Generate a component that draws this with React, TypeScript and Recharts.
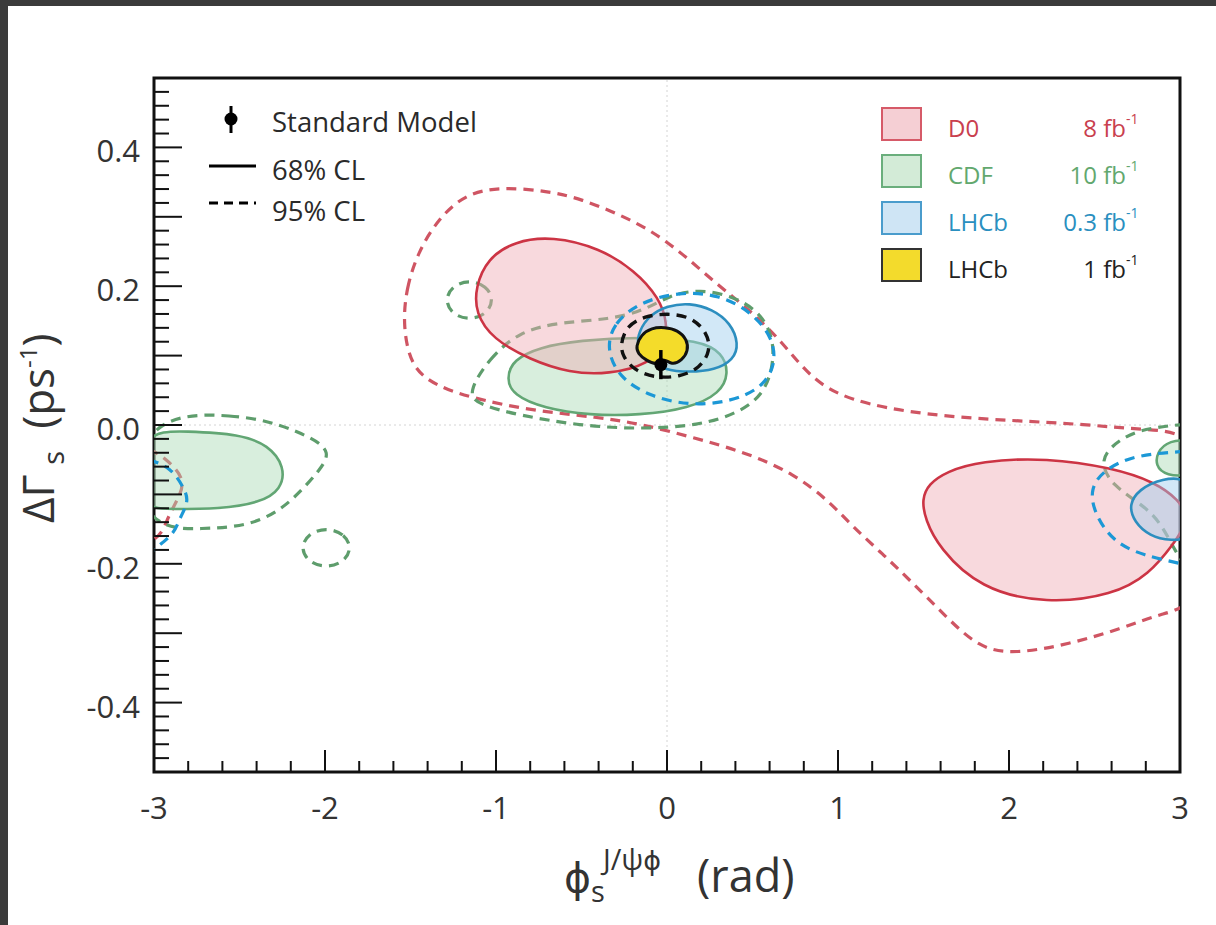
import React from "react";
import { ScatterChart, Scatter, XAxis, YAxis, ReferenceLine, ReferenceArea } from "recharts";

// contour points, [phi_s (rad), DeltaGamma_s (ps^-1)]
const d0Main68 = [
  [-0.67, 0.272], [-0.395, 0.255], [-0.19, 0.223], [-0.044, 0.183], [0.003, 0.146], [-0.015, 0.117],
  [-0.1, 0.088], [-0.34, 0.073], [-0.57, 0.075], [-0.8, 0.094], [-1.02, 0.124], [-1.12, 0.161],
  [-1.12, 0.199], [-1.05, 0.24], [-0.89, 0.265],
];
const d0Right68 = [
  [1.49, -0.107], [1.53, -0.085], [1.636, -0.067], [1.829, -0.052], [2.222, -0.047], [2.608, -0.062],
  [2.85, -0.082], [2.99, -0.107], [3.06, -0.136], [2.96, -0.172], [2.82, -0.215], [2.61, -0.245],
  [2.22, -0.258], [1.83, -0.236], [1.59, -0.177], [1.51, -0.136],
];
const d0Main95 = [
  [-1.545, 0.143], [-1.525, 0.197], [-1.455, 0.25], [-1.335, 0.298], [-1.174, 0.334], [-0.963, 0.343],
  [-0.688, 0.337], [-0.495, 0.325], [-0.296, 0.305], [-0.102, 0.282], [0.091, 0.247], [0.29, 0.203],
  [0.483, 0.166], [0.676, 0.119], [0.834, 0.069], [1.051, 0.035], [1.513, 0.014], [2.034, 0.006],
  [2.45, 0.001], [2.766, -0.007], [3.2, -0.01], [3.2, -0.254], [2.871, -0.273], [2.661, -0.293],
  [2.35, -0.316], [2.034, -0.33], [1.824, -0.322], [1.619, -0.273], [1.426, -0.225], [1.262, -0.186],
  [1.092, -0.148], [0.945, -0.109], [0.741, -0.07], [0.466, -0.04], [0.155, -0.018], [-0.161, 0.002],
  [-0.395, 0.011], [-0.805, 0.021], [-1.156, 0.04], [-1.332, 0.055], [-1.495, 0.08],
];
const d0Left95 = [
  [-3.03, -0.035], [-2.93, -0.05], [-2.845, -0.075], [-2.85, -0.1], [-2.91, -0.13], [-2.96, -0.155], [-3.03, -0.17],
];

const cdfMain68 = [
  [-0.94, 0.067], [-0.9, 0.094], [-0.746, 0.112], [-0.512, 0.122], [-0.161, 0.127], [0.19, 0.122],
  [0.325, 0.104], [0.362, 0.074], [0.312, 0.046], [0.132, 0.024], [-0.161, 0.014], [-0.454, 0.014],
  [-0.72, 0.024], [-0.9, 0.043],
];
const cdfLeft68 = [
  [-3.1, -0.008], [-2.8, -0.009], [-2.5, -0.013], [-2.33, -0.029], [-2.235, -0.06], [-2.255, -0.093],
  [-2.38, -0.112], [-2.62, -0.121], [-2.9, -0.121], [-3.1, -0.121],
];
const cdfRight68 = [
  [3.1, -0.02], [2.93, -0.022], [2.865, -0.04], [2.858, -0.058], [2.91, -0.073], [3.1, -0.075],
];
const cdfMain95 = [
  [-1.17, 0.045], [-1.04, 0.096], [-0.863, 0.135], [-0.629, 0.148], [-0.337, 0.152], [-0.132, 0.165],
  [0.015, 0.187], [0.19, 0.196], [0.395, 0.185], [0.545, 0.162], [0.625, 0.125], [0.62, 0.081],
  [0.558, 0.043], [0.424, 0.018], [0.19, -0.001], [-0.161, -0.006], [-0.512, -0.001], [-0.863, 0.014],
  [-1.098, 0.029],
];
const cdfIsland95a = [
  [-1.013, 0.18], [-1.055, 0.2005], [-1.156, 0.209], [-1.257, 0.2005], [-1.299, 0.18], [-1.257, 0.1595],
  [-1.156, 0.151], [-1.055, 0.1595],
];
const cdfIsland95b = [
  [-1.843, -0.177], [-1.887, -0.1565], [-1.993, -0.148], [-2.099, -0.1565], [-2.143, -0.177],
  [-2.099, -0.1975], [-1.993, -0.206], [-1.887, -0.1975],
];
const cdfLeft95 = [
  [-3.1, 0.017], [-2.5, 0.015], [-2.268, 0.001], [-2.07, -0.019], [-1.965, -0.039], [-2.03, -0.065],
  [-2.151, -0.098], [-2.268, -0.124], [-2.444, -0.145], [-2.696, -0.15], [-3.1, -0.15],
];
const cdfRight95 = [
  [3.03, 0.001], [2.766, -0.009], [2.602, -0.032], [2.555, -0.057], [2.62, -0.086], [2.766, -0.114],
  [2.883, -0.143], [2.971, -0.18], [3.03, -0.201],
];

const lhcb03Main68 = [
  [-0.165, 0.135], [-0.104, 0.158], [0.003, 0.172], [0.132, 0.176], [0.265, 0.167], [0.372, 0.147],
  [0.42, 0.117], [0.39, 0.094], [0.278, 0.079], [0.132, 0.076], [-0.015, 0.079], [-0.118, 0.095],
  [-0.178, 0.113],
];
const lhcb03Right68 = [
  [3.1, -0.074], [2.883, -0.077], [2.762, -0.093], [2.7, -0.114], [2.732, -0.14], [2.824, -0.16],
  [2.941, -0.167], [3.1, -0.164],
];
const lhcb03Main95 = [
  [-0.355, 0.11], [-0.312, 0.147], [-0.161, 0.177], [0.073, 0.192], [0.307, 0.188], [0.5, 0.162],
  [0.62, 0.125], [0.636, 0.087], [0.556, 0.053], [0.366, 0.033], [0.132, 0.028], [-0.102, 0.041],
  [-0.283, 0.069],
];
const lhcb03Left95 = [
  [-3.03, -0.05], [-2.91, -0.064], [-2.83, -0.09], [-2.81, -0.112], [-2.85, -0.136], [-2.9, -0.158], [-3.03, -0.185],
];
const lhcb03Right95 = [
  [3.03, -0.038], [2.766, -0.045], [2.579, -0.064], [2.491, -0.093], [2.514, -0.129], [2.62, -0.165],
  [2.795, -0.187], [3.03, -0.201],
];

const lhcb1Main68 = [
  [-0.182, 0.113], [-0.152, 0.13], [-0.09, 0.14], [-0.015, 0.141], [0.063, 0.137], [0.118, 0.123],
  [0.124, 0.107], [0.088, 0.093], [0.026, 0.086], [-0.015, 0.097], [-0.056, 0.086], [-0.122, 0.093],
  [-0.17, 0.103],
];
const lhcb1Main95 = [
  [-0.272, 0.117], [-0.235, 0.143], [-0.131, 0.157], [0.003, 0.161], [0.143, 0.156], [0.236, 0.133],
  [0.255, 0.107], [0.193, 0.082], [0.073, 0.069], [-0.073, 0.068], [-0.193, 0.079], [-0.26, 0.099],
];

// Standard Model prediction: phi_s, DeltaGamma_s and its uncertainty
const smPhi = [-0.036];
const smGamma = [0.087];
const smGammaErr = [0.021];

const xMajor = [-3, -2, -1, 0, 1, 2, 3];
const yLabelValues = [0.4, 0.2, 0, -0.2, -0.4];
const yLabelText = ["0.4", "0.2", "0.0", "-0.2", "-0.4"];

const xTicks: number[] = [];
for (let i = -15; i <= 15; i++) xTicks.push(i / 5);
const yTicks: number[] = [];
for (let i = -25; i <= 25; i++) yTicks.push(i / 50);

const legendRows = [
  { name: "D0", lumi: "8 fb", color: "#c9404e", fill: "#f5cfd4", edge: "#d65a68" },
  { name: "CDF", lumi: "10 fb", color: "#62a86e", fill: "#d3ebd7", edge: "#6aae7c" },
  { name: "LHCb", lumi: "0.3 fb", color: "#2a8fbf", fill: "#cfe5f5", edge: "#4a9ccc" },
  { name: "LHCb", lumi: "1 fb", color: "#222", fill: "#f3db2c", edge: "#333" },
];

const FONT = "'Open Sans', 'Noto Sans', 'DejaVu Sans', sans-serif";
const PHI = "'DejaVu Sans', sans-serif";

const red68 = "#cc3444";
const red95 = "#cf5563";
const green68 = "#62a674";
const green95 = "#5e9d6c";
const blue68 = "#2c8ebf";
const blue95 = "#1c98d6";

const pts = (a: number[][]) => a.map(([x, y]) => ({ x, y }));
const NoDot = () => <g />;

const smPoint = smPhi.map((x, i) => ({ x, y: smGamma[i] }));
const smBar = [
  { x: smPhi[0], y: smGamma[0] - smGammaErr[0] },
  { x: smPhi[0], y: smGamma[0] + smGammaErr[0] },
];

const XTick = (props: any) => {
  const { x, y, payload } = props;
  const v = Math.round(payload.value * 10) / 10;
  const major = xMajor.includes(v);
  return (
    <g>
      <line x1={x} x2={x} y1={y} y2={y - (major ? 22 : 11)} stroke="#111" strokeWidth={2} />
      {major && (
        <text x={x} y={y + 47} textAnchor="middle" fontSize={31} fontFamily={FONT} fill="#333">
          {String(v)}
        </text>
      )}
    </g>
  );
};

const YTick = (props: any) => {
  const { x, y, payload } = props;
  const v = Math.round(payload.value * 100) / 100;
  const major = Math.abs(v * 10 - Math.round(v * 10)) < 1e-6;
  const li = yLabelValues.findIndex((l) => Math.abs(l - v) < 1e-6);
  return (
    <g>
      <line x1={x} x2={x + (major ? 28 : 15)} y1={y} y2={y} stroke="#111" strokeWidth={2} />
      {li >= 0 && (
        <text x={x - 14} y={y + 15} textAnchor="end" fontSize={31} fontFamily={FONT} fill="#333">
          {yLabelText[li]}
        </text>
      )}
    </g>
  );
};

const XTitle = () => (
  <text x={564} y={892} fontSize={45} fontFamily={FONT} fill="#333">
    <tspan fontFamily={PHI} fontSize={41}>ϕ</tspan>
    <tspan fontSize={29} dy={10}>s</tspan>
    <tspan fontSize={29} dy={-32} dx={-2}>J/ψ</tspan>
    <tspan fontSize={27} fontFamily={PHI}>ϕ</tspan>
    <tspan dy={22} dx={36}>(rad)</tspan>
  </text>
);

const YTitle = () => (
  <text transform="translate(54, 523) rotate(-90)" fontSize={44} fontFamily={FONT} fill="#333">
    ΔΓ<tspan fontSize={29} dy={10} dx={10}>s</tspan>
    <tspan dy={-10} dx={22}>(ps</tspan>
    <tspan fontSize={24} dy={-17}>-1</tspan>
    <tspan dy={17}>)</tspan>
  </text>
);

const contour = (
  key: string,
  data: number[][],
  stroke: string,
  opts: { fill?: string; fillOpacity?: number; dashed?: boolean; open?: boolean; width?: number } = {}
) => (
  <Scatter
    key={key}
    data={pts(data)}
    lineType="joint"
    lineJointType={opts.open ? "natural" : "basisClosed"}
    line={{
      stroke,
      strokeWidth: opts.width ?? (opts.dashed ? 3.2 : 2.6),
      strokeDasharray: opts.dashed ? "10 7" : undefined,
      fill: opts.fill ?? "none",
      fillOpacity: opts.fillOpacity ?? 1,
    }}
    shape={NoDot}
    isAnimationActive={false}
  />
);

export default function App() {
  return (
    <div style={{ position: "absolute", left: 0, top: 0, width: 1216, height: 925, background: "#3b3b3b", overflow: "hidden" }}>
      <div style={{ position: "absolute", left: 8, top: 6, width: 1208, height: 919, background: "#ffffff" }} />
      <div style={{ position: "absolute", left: 0, top: 0 }}>
        <ScatterChart width={1216} height={925} margin={{ top: 78, right: 36, bottom: 93, left: 94 }}>
          <XAxis
            type="number"
            dataKey="x"
            domain={[-3, 3]}
            allowDataOverflow
            ticks={xTicks}
            interval={0}
            tick={<XTick />}
            tickLine={false}
            axisLine={false}
            tickSize={0}
            tickMargin={0}
            height={60}
            label={{ content: XTitle }}
          />
          <YAxis
            type="number"
            dataKey="y"
            domain={[-0.5, 0.5]}
            allowDataOverflow
            ticks={yTicks}
            interval={0}
            tick={<YTick />}
            tickLine={false}
            axisLine={false}
            tickSize={0}
            tickMargin={0}
            width={60}
            label={{ content: YTitle }}
          />
          <ReferenceLine x={0} stroke="#d4d4d4" strokeDasharray="2 3" strokeWidth={1} />
          <ReferenceLine y={0} stroke="#d4d4d4" strokeDasharray="2 3" strokeWidth={1} />

          {contour("d095", d0Main95, red95, { dashed: true })}
          {contour("d095l", d0Left95, red95, { dashed: true, open: true })}
          {contour("cdf95", cdfMain95, green95, { dashed: true })}
          {contour("cdf95a", cdfIsland95a, green95, { dashed: true })}
          {contour("cdf95b", cdfIsland95b, green95, { dashed: true })}
          {contour("cdf95l", cdfLeft95, green95, { dashed: true })}
          {contour("cdf95r", cdfRight95, green95, { dashed: true, open: true })}

          {contour("cdf68", cdfMain68, green68, { fill: "#a9d9b3", fillOpacity: 0.45 })}
          {contour("cdf68l", cdfLeft68, green68, { fill: "#a9d9b3", fillOpacity: 0.45 })}
          {contour("cdf68r", cdfRight68, green68, { fill: "#a9d9b3", fillOpacity: 0.45 })}
          {contour("d068", d0Main68, red68, { fill: "#f0aab4", fillOpacity: 0.45 })}
          {contour("d068r", d0Right68, red68, { fill: "#f0aab4", fillOpacity: 0.45 })}

          {contour("lh95", lhcb03Main95, blue95, { dashed: true })}
          {contour("lh95l", lhcb03Left95, blue95, { dashed: true, open: true })}
          {contour("lh95r", lhcb03Right95, blue95, { dashed: true, open: true })}
          {contour("lh68", lhcb03Main68, blue68, { fill: "#9ccbee", fillOpacity: 0.45 })}
          {contour("lh68r", lhcb03Right68, blue68, { fill: "#9ccbee", fillOpacity: 0.45 })}

          {contour("lhcb1_95", lhcb1Main95, "#111", { dashed: true, width: 3.4 })}
          {contour("lhcb1_68", lhcb1Main68, "#111", { fill: "#f4dc2a", width: 3 })}

          <Scatter
            data={smBar}
            lineType="joint"
            line={{ stroke: "#000", strokeWidth: 3.5 }}
            shape={NoDot}
            isAnimationActive={false}
          />
          <Scatter
            data={smPoint}
            isAnimationActive={false}
            shape={(p: any) => <circle cx={p.cx} cy={p.cy} r={6.5} fill="#000" />}
          />

          <ReferenceArea x1={-3} x2={3} y1={-0.5} y2={0.5} fill="none" stroke="#111" strokeWidth={3} ifOverflow="visible" />
        </ScatterChart>
      </div>

      <svg width={1216} height={925} style={{ position: "absolute", left: 0, top: 0, pointerEvents: "none" }}>
        <g fontFamily={FONT} fill="#2a2a2a">
          <line x1={231} x2={231} y1={106} y2={133} stroke="#000" strokeWidth={3} />
          <circle cx={231} cy={119} r={6.5} fill="#000" />
          <text x={272} y={132} fontSize={27.5}>Standard Model</text>
          <line x1={209} x2={256} y1={166} y2={166} stroke="#000" strokeWidth={3} />
          <text x={272} y={180} fontSize={27.5}>68% CL</text>
          <line x1={209} x2={256} y1={203} y2={203} stroke="#000" strokeWidth={3} strokeDasharray="9 6" />
          <text x={272} y={221} fontSize={27.5}>95% CL</text>
        </g>
        <g fontFamily={FONT}>
          {legendRows.map((r, i) => {
            const top = 108 + i * 47;
            return (
              <g key={i}>
                <rect x={882} y={top} width={39} height={32} fill={r.fill} stroke={r.edge} strokeWidth={2} />
                <text x={948} y={top + 29} fontSize={24} fill={r.color}>{r.name}</text>
                <text x={1126} y={top + 29} fontSize={24} fill={r.color} textAnchor="end">{r.lumi}</text>
                <text x={1126} y={top + 16} fontSize={14} fill={r.color}>-1</text>
              </g>
            );
          })}
        </g>
      </svg>
    </div>
  );
}
